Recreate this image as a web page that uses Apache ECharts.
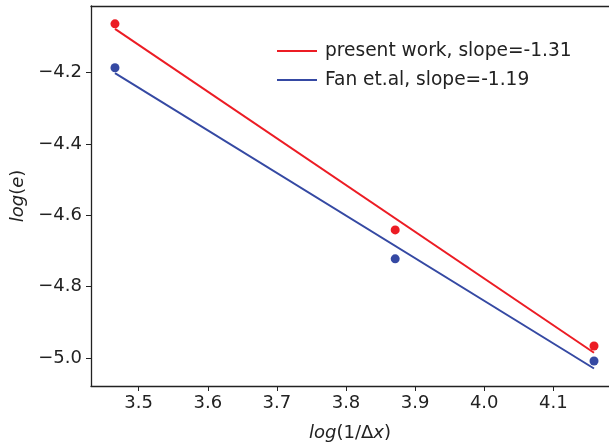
<!DOCTYPE html>
<html><head><meta charset="utf-8">
<script src="https://cdn.jsdelivr.net/npm/echarts@6/dist/echarts.min.js"></script>
<style>html,body{margin:0;padding:0;background:#fff}#c{width:609px;height:447px}</style>
</head><body><div id="c"></div>
<script>
// x values: log(1/dx)
const xVals = [3.4657, 3.8712, 4.1589];
const presentPts = [-4.064, -4.641, -4.966];
const fanPts = [-4.187, -4.722, -5.008];
// fitted line end points
const fitX = [3.4657, 4.1589];
const presentFit = [-4.078, -4.985];
const fanFit = [-4.202, -5.029];
const xTicks = [3.5, 3.6, 3.7, 3.8, 3.9, 4.0, 4.1];
const yTicks = [-5.0, -4.8, -4.6, -4.4, -4.2];
const names = ['present work, slope=-1.31', 'Fan et.al, slope=-1.19'];

const RED = '#ec1c24', BLUE = '#3549a3';
const FONT = 'DejaVu Sans';
const FS = 18;
const fmt = v => (v < 0 ? '\u2212' : '') + Math.abs(v).toFixed(1);
const pairs = (xs, ys) => xs.map((x, i) => [x, ys[i]]);

const chart = echarts.init(document.getElementById('c'));
const axisLine = {show: true, lineStyle: {color: '#222', width: 1.3}};
chart.setOption({
  animation: false,
  grid: {left: 91, right: 0, top: 6, bottom: 56},
  xAxis: [{
    type: 'value', min: 3.431, max: 4.1806,
    axisLine: axisLine,
    axisTick: {show: true, length: 5, lineStyle: {color: '#222'}, customValues: xTicks},
    axisLabel: {customValues: xTicks, formatter: fmt, fontFamily: FONT, fontSize: FS, color: '#222', margin: 8},
    splitLine: {show: false},
    name: '{i|log}(1/\u0394{i|x})', nameLocation: 'middle', nameGap: 38,
    nameTextStyle: {fontFamily: FONT, fontSize: FS, color: '#222',
      rich: {i: {fontFamily: FONT, fontSize: FS, fontStyle: 'italic', color: '#222'}}}
  }, {
    type: 'value', position: 'top', min: 3.431, max: 4.1806,
    axisLine: axisLine, axisTick: {show: false}, axisLabel: {show: false}, splitLine: {show: false}
  }],
  yAxis: [{
    type: 'value', min: -5.078, max: -4.014,
    axisLine: axisLine,
    axisTick: {show: true, length: 5, lineStyle: {color: '#222'}, customValues: yTicks},
    axisLabel: {customValues: yTicks, formatter: fmt, fontFamily: FONT, fontSize: FS, color: '#222', margin: 9},
    splitLine: {show: false},
    name: '{i|log}({i|e})', nameLocation: 'middle', nameGap: 58, nameRotate: 90,
    nameTextStyle: {fontFamily: FONT, fontSize: FS, color: '#222',
      rich: {i: {fontFamily: FONT, fontSize: FS, fontStyle: 'italic', color: '#222'}}}
  }],
  legend: {
    left: 272, top: 36, orient: 'vertical', icon: 'rect', itemWidth: 40, itemHeight: 2,
    itemGap: 9, itemStyle: {borderWidth: 0},
    textStyle: {fontFamily: FONT, fontSize: 18.6, color: '#222', lineHeight: 20, padding: [0, 0, 0, 3]},
    data: names
  },
  series: [
    {name: names[0], type: 'line', data: pairs(fitX, presentFit), showSymbol: false, symbol: 'none',
     lineStyle: {color: RED, width: 2}, itemStyle: {color: RED}, z: 2},
    {name: names[1], type: 'line', data: pairs(fitX, fanFit), showSymbol: false, symbol: 'none',
     lineStyle: {color: BLUE, width: 2}, itemStyle: {color: BLUE}, z: 2},
    {name: 'present pts', type: 'scatter', data: pairs(xVals, presentPts), symbolSize: 9,
     itemStyle: {color: RED, opacity: 1}, z: 3},
    {name: 'fan pts', type: 'scatter', data: pairs(xVals, fanPts), symbolSize: 9,
     itemStyle: {color: BLUE, opacity: 1}, z: 3}
  ]
});
</script></body></html>
